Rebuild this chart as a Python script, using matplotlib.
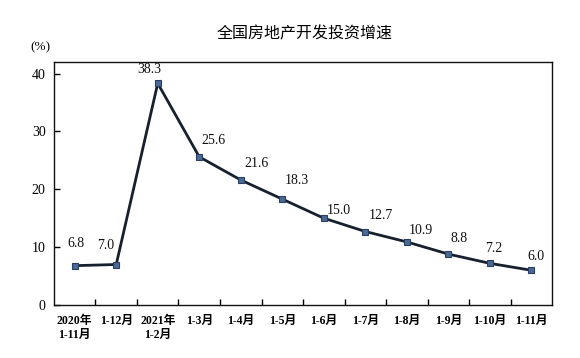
import matplotlib
matplotlib.use("Agg")
import matplotlib.pyplot as plt

categories = ["2020年\n1-11月", "1-12月", "2021年\n1-2月", "1-3月", "1-4月", "1-5月",
              "1-6月", "1-7月", "1-8月", "1-9月", "1-10月", "1-11月"]
values = [6.8, 7.0, 38.3, 25.6, 21.6, 18.3, 15.0, 12.7, 10.9, 8.8, 7.2, 6.0]
yticks = [0, 10, 20, 30, 40]

# label placement (pixels, styling only)
label_offsets = [(1, 22), (-11, 19), (-8, 14), (14, 16), (16, 17), (15, 19),
                 (15, 8), (16, 16), (14, 11), (11, 16), (4, 15), (5, 14)]

fam = ["Liberation Serif", "Noto Sans CJK SC"]
plt.rcParams["font.family"] = fam

fig = plt.figure(figsize=(5.8, 3.58), dpi=100)
ax = fig.add_axes([0.093, 0.148, 0.859, 0.679])

x = list(range(len(values)))
ax.plot(x, values, color="#17212e", lw=2.0, marker="s", ms=4,
        mfc="#4a6a95", mec="#2a3f60", mew=0.8, zorder=3)

for i, v in enumerate(values):
    dx, dy = label_offsets[i]
    ax.annotate(f"{v:.1f}", (i, v), xytext=(dx, dy), textcoords="offset pixels",
                ha="center", va="center", fontsize=10, color="#111111",
                annotation_clip=False)

ax.set_xlim(-0.5, len(values) - 0.5)
ax.set_ylim(0, 42)
ax.set_yticks(yticks)
ax.set_yticklabels([str(t) for t in yticks], fontsize=10)
ax.set_xticks([i + 0.5 for i in range(len(values) - 1)])
ax.set_xticklabels([])
ax.set_xticks(x, minor=True)
ax.set_xticklabels(categories, minor=True, fontsize=8.5, fontweight="bold", linespacing=1.3)
ax.tick_params(axis="x", which="minor", length=0, pad=7)
ax.tick_params(axis="x", which="major", direction="in", length=4, width=1)
ax.tick_params(axis="y", direction="in", length=4, width=1, pad=6)
for s in ax.spines.values():
    s.set_linewidth(1.0)
    s.set_color("#111111")

fig.text(0.525, 0.905, "全国房地产开发投资增速", ha="center", va="center",
         fontsize=11.5, family=["Noto Sans CJK SC"])
fig.text(0.052, 0.868, "(%)", ha="left", va="center", fontsize=9.5, family=fam)

fig.savefig("out.png", dpi=100)
